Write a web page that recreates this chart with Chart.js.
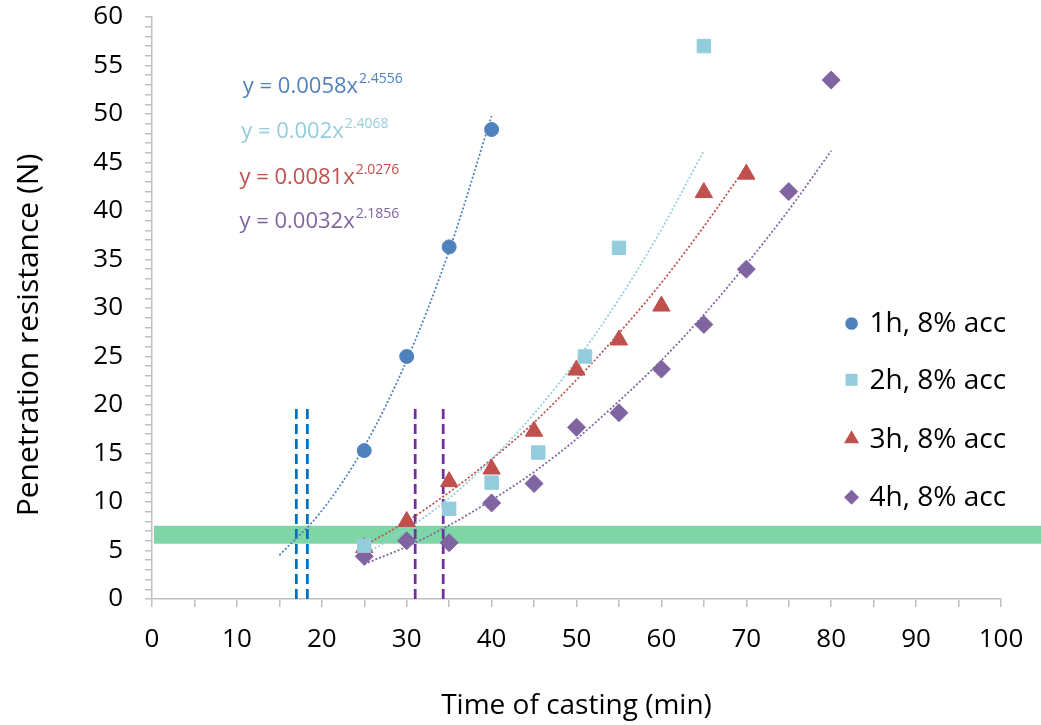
<!DOCTYPE html>
<html>
<head>
<meta charset="utf-8">
<script src="https://cdn.jsdelivr.net/npm/chart.js@4.4.1/dist/chart.umd.min.js"></script>
<style>
  html, body { margin: 0; padding: 0; background: #fff; }
  #wrap { width: 1041px; height: 725px; }
</style>
</head>
<body>
<div id="wrap"><canvas id="chart" width="1041" height="725"></canvas></div>
<script>
// series
const seriesNames = ['1h, 8% acc', '2h, 8% acc', '3h, 8% acc', '4h, 8% acc'];
const seriesColors = ['#4F81BD', '#93CDDD', '#C0504D', '#8064A2'];
const seriesShapes = ['circle', 'rect', 'triangle', 'rectRot'];
const seriesRadius = [7, 9.5, 10, 9];

const time1h = [25, 30, 35, 40];
const res1h = [15.3, 25, 36.3, 48.4];
const time2h = [25, 35, 40, 45.5, 51, 55, 65];
const res2h = [5.5, 9.3, 12, 15.1, 25, 36.2, 57];
const time3h = [25, 30, 35, 40, 45, 50, 55, 60, 65, 70];
const res3h = [5.3, 8, 12.1, 13.4, 17.3, 23.6, 26.7, 30.2, 41.9, 43.8];
const time4h = [25, 30, 35, 40, 45, 50, 55, 60, 65, 70, 75, 80];
const res4h = [4.4, 6, 5.8, 9.9, 11.9, 17.7, 19.2, 23.7, 28.3, 34, 42, 53.5];

// trend lines (power fits)
const trendX1h = [15, 20, 25, 30, 35, 40];
const trendY1h = [4.5, 9.1, 15.7, 24.6, 35.9, 49.8];
const trendX2h = [25, 30, 35, 40, 45, 50, 55, 60, 65];
const trendY2h = [4.6, 7.2, 10.4, 14.4, 19.1, 24.6, 30.9, 38.1, 46.2];
const trendX3h = [25, 30, 35, 40, 45, 50, 55, 60, 65, 70];
const trendY3h = [5.5, 8, 11, 14.4, 18.2, 22.6, 27.4, 32.6, 38.4, 44.6];
const trendX4h = [25, 30, 35, 40, 45, 50, 55, 60, 65, 70, 75, 80];
const trendY4h = [3.6, 5.4, 7.6, 10.2, 13.1, 16.5, 20.4, 24.6, 29.3, 34.5, 40.1, 46.2];

const eqCoef = ['0.0058', '0.002', '0.0081', '0.0032'];
const eqExp = ['2.4556', '2.4068', '2.0276', '2.1856'];

// dashed markers and threshold band
const markX = [17, 18.3, 31, 34.3];
const markColors = ['#0070C0', '#0070C0', '#7030A0', '#7030A0'];
const markTop = 20;
const bandLow = 5.7;
const bandHigh = 7.55;

const yTitle = 'Penetration resistance (N)';
const FONT = "'Open Sans', 'Noto Sans', sans-serif";

const pts = (xs, ys) => xs.map((x, i) => ({ x: x, y: ys[i] }));
const times = [time1h, time2h, time3h, time4h];
const values = [res1h, res2h, res3h, res4h];
const trendXs = [trendX1h, trendX2h, trendX3h, trendX4h];
const trendYs = [trendY1h, trendY2h, trendY3h, trendY4h];

const datasets = [];
seriesNames.forEach((name, i) => {
  datasets.push({
    label: name,
    data: pts(times[i], values[i]),
    showLine: false,
    pointStyle: seriesShapes[i],
    pointRadius: seriesRadius[i],
    backgroundColor: seriesColors[i],
    borderColor: seriesColors[i],
    borderWidth: 1,
    order: 0
  });
});
seriesNames.forEach((name, i) => {
  datasets.push({
    label: 'trend ' + name,
    data: pts(trendXs[i], trendYs[i]),
    showLine: true,
    pointRadius: 0,
    borderColor: seriesColors[i],
    borderWidth: 1.75,
    borderDash: [2, 2],
    cubicInterpolationMode: 'monotone',
    fill: false,
    order: 1
  });
});
markX.forEach((x, i) => {
  datasets.push({
    label: 'mark ' + i,
    data: [{ x: x, y: 0 }, { x: x, y: markTop }],
    showLine: true,
    pointRadius: 0,
    borderColor: markColors[i],
    borderWidth: 2.75,
    borderDash: [10, 5],
    order: 2
  });
});

const bandPlugin = {
  id: 'band',
  beforeDatasetsDraw(chart) {
    const { ctx, chartArea, scales } = chart;
    const yTop = scales.y.getPixelForValue(bandHigh);
    const yBot = scales.y.getPixelForValue(bandLow);
    ctx.save();
    ctx.fillStyle = '#7ED6A6';
    ctx.fillRect(chartArea.left + 2, yTop, chart.width - chartArea.left - 2, yBot - yTop);
    ctx.restore();
  }
};

function drawShape(ctx, shape, x, y, r) {
  ctx.beginPath();
  if (shape === 'circle') {
    ctx.arc(x, y, r, 0, Math.PI * 2);
  } else if (shape === 'rect') {
    const s = r * Math.SQRT1_2;
    ctx.rect(x - s, y - s, 2 * s, 2 * s);
  } else if (shape === 'triangle') {
    ctx.moveTo(x, y - r);
    ctx.lineTo(x + r * 0.866, y + r * 0.5);
    ctx.lineTo(x - r * 0.866, y + r * 0.5);
    ctx.closePath();
  } else {
    ctx.moveTo(x, y - r);
    ctx.lineTo(x + r, y);
    ctx.lineTo(x, y + r);
    ctx.lineTo(x - r, y);
    ctx.closePath();
  }
  ctx.fill();
}

const labelPlugin = {
  id: 'labels',
  afterDatasetsDraw(chart) {
    const { ctx, scales } = chart;
    ctx.save();
    // equations
    const eqY = [52.2, 47.5, 42.8, 38.2];
    const eqX = [10.7, 10.5, 10.3, 10.3];
    eqCoef.forEach((c, i) => {
      const x = scales.x.getPixelForValue(eqX[i]);
      const y = scales.y.getPixelForValue(eqY[i]);
      ctx.fillStyle = seriesColors[i];
      ctx.textBaseline = 'alphabetic';
      ctx.textAlign = 'left';
      ctx.font = '22px ' + FONT;
      const main = 'y = ' + c + 'x';
      ctx.fillText(main, x, y);
      const w = ctx.measureText(main).width;
      ctx.font = '14px ' + FONT;
      ctx.fillText(eqExp[i], x + w + 1, y - 10);
    });
    // legend
    const legY = [28.4, 22.6, 16.5, 10.5];
    const legR = [6.3, 8.5, 8.7, 7.5];
    const mx = scales.x.getPixelForValue(82.4);
    seriesNames.forEach((name, i) => {
      const y = scales.y.getPixelForValue(legY[i]);
      ctx.fillStyle = seriesColors[i];
      drawShape(ctx, seriesShapes[i], mx, y, legR[i]);
      ctx.fillStyle = '#000';
      ctx.font = '28px ' + FONT;
      ctx.textBaseline = 'middle';
      ctx.fillText(name, mx + 18, y + 1);
    });
    // y axis title (sits a bit below the plot centre, as in the original)
    ctx.translate(29, 335);
    ctx.rotate(-Math.PI / 2);
    ctx.fillStyle = '#000';
    ctx.font = '30px ' + FONT;
    ctx.textAlign = 'center';
    ctx.textBaseline = 'middle';
    ctx.fillText(yTitle, 0, 0);
    ctx.restore();
  }
};

new Chart(document.getElementById('chart'), {
  type: 'scatter',
  data: { datasets: datasets },
  plugins: [bandPlugin, labelPlugin],
  options: {
    responsive: false,
    animation: false,
    layout: { padding: { top: 17, right: 40, left: 0, bottom: 0 } },
    plugins: { legend: { display: false }, tooltip: { enabled: false } },
    scales: {
      x: {
        type: 'linear',
        min: 0,
        max: 100,
        afterFit: s => { s.height = 126; s.paddingLeft = 0; s.paddingRight = 0; },
        ticks: {
          stepSize: 5,
          autoSkip: false,
          maxRotation: 0,
          padding: 17,
          color: '#000',
          font: { family: FONT, size: 26 },
          callback: v => (v % 10 === 0 ? v : '')
        },
        grid: { drawOnChartArea: false, tickLength: 8, color: '#BFBFBF', lineWidth: 1.5 },
        border: { color: '#BFBFBF', width: 1.5 },
        title: {
          display: true,
          text: 'Time of casting (min)',
          color: '#000',
          font: { family: FONT, size: 28 },
          padding: { top: 0, bottom: 2 }
        }
      },
      y: {
        min: 0,
        max: 60,
        afterFit: s => { s.width = 152; s.paddingTop = 0; s.paddingBottom = 0; },
        ticks: {
          stepSize: 1,
          autoSkip: false,
          padding: 22,
          color: '#000',
          font: { family: FONT, size: 26 },
          callback: v => (v % 5 === 0 ? v : '')
        },
        grid: { drawOnChartArea: false, tickLength: 7, color: '#BFBFBF', lineWidth: 1.5 },
        border: { color: '#BFBFBF', width: 1.5 },
        title: { display: false }
      }
    }
  }
});
</script>
</body>
</html>
